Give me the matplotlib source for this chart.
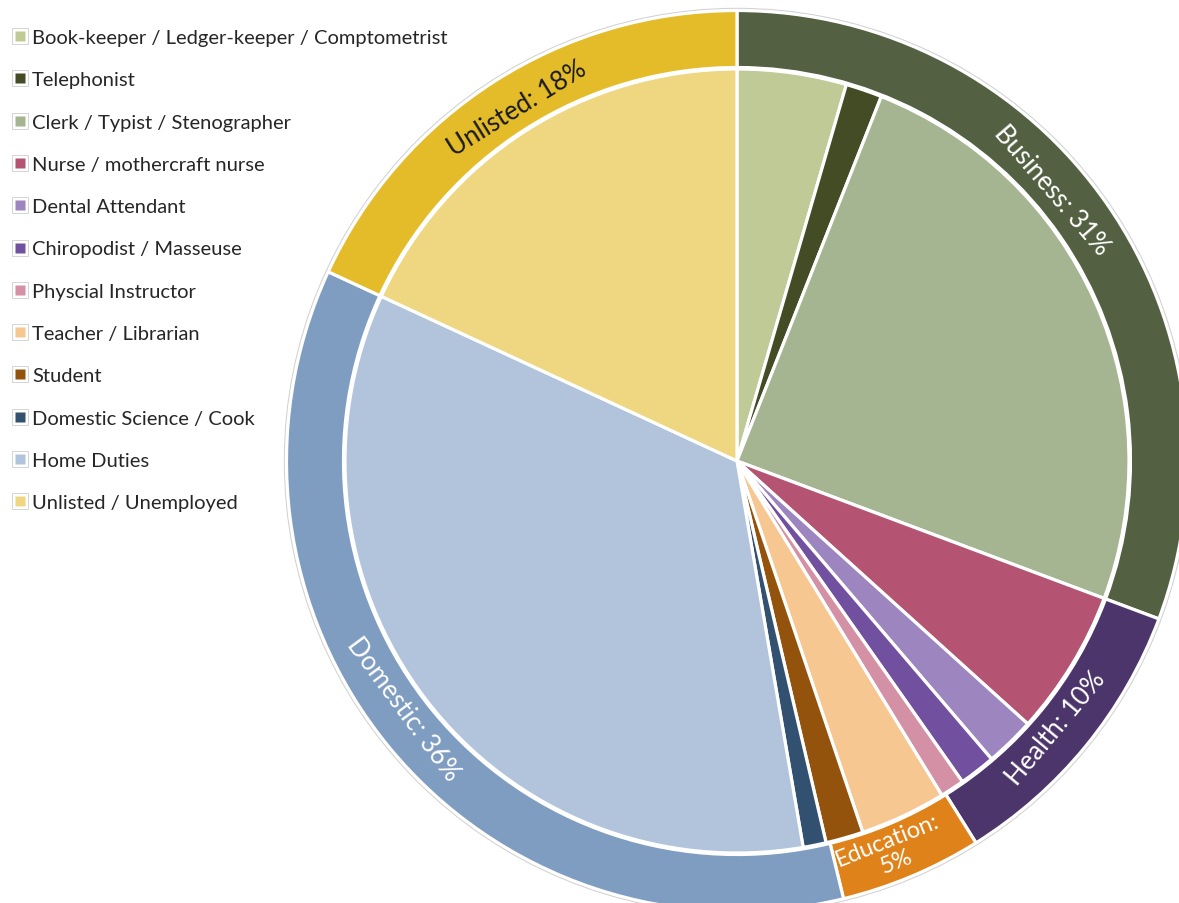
import matplotlib
matplotlib.use("Agg")
import matplotlib.pyplot as plt
from matplotlib.lines import Line2D
from matplotlib.patches import Circle
import numpy as np

plt.rcParams['font.family'] = ['Lato', 'DejaVu Sans']

# Occupations (inner pie), percent of respondents
occupations = [
    "Book-keeper / Ledger-keeper / Comptometrist",
    "Telephonist",
    "Clerk / Typist / Stenographer",
    "Nurse / mothercraft nurse",
    "Dental Attendant",
    "Chiropodist / Masseuse",
    "Physcial Instructor",
    "Teacher / Librarian",
    "Student",
    "Domestic Science / Cook",
    "Home Duties",
    "Unlisted / Unemployed",
]
occupation_share = [4.5, 1.5, 24.7, 6.0, 2.05, 1.5, 1.0, 3.55, 1.55, 0.95, 34.6, 18.1]
occupation_colors = [
    "#C0CA96", "#434C24", "#A5B491",
    "#B45472", "#9D85C0", "#7250A0", "#D491A6",
    "#F6C791", "#93530C",
    "#32506F", "#B1C4DB",
    "#EFD681",
]

# Occupation groups (outer ring), percent of respondents
groups = ["Business", "Health", "Education", "Domestic", "Unlisted"]
group_share = [30.7, 10.4, 5.1, 35.7, 18.1]
group_colors = ["#536142", "#4B356A", "#E0821A", "#7F9DC1", "#E4BC2A"]
group_text_colors = ["white", "white", "white", "white", "#1a1a1a"]

W, H = 1179, 904
fig = plt.figure(figsize=(W / 100, H / 100), dpi=100)

# pie centre in pixel coordinates (from top-left); axes data units are pixels
cx, cy = 737, 462
half = 470
ax = fig.add_axes([(cx - half) / W, (H - cy - half) / H, 2 * half / W, 2 * half / H])

edge = dict(edgecolor="white", linewidth=2.3)
ax.pie(occupation_share, colors=occupation_colors, radius=392,
       startangle=90, counterclock=False, wedgeprops=edge)

r_out = 450.5
ring_w = 57
ax.pie(group_share, colors=group_colors, radius=r_out,
       startangle=90, counterclock=False,
       wedgeprops=dict(width=ring_w, **edge))
ax.add_patch(Circle((0, 0), r_out + 2.2, fill=False, edgecolor="#cfcfcf", lw=0.7))

ax.set_xlim(-half, half)
ax.set_ylim(-half, half)
ax.set_aspect("equal")
ax.axis("off")

# group labels along the ring
nudge = [-6.0, 0.6, 1.2, 2.9, 0.7]   # degrees, clockwise
total = sum(group_share)
cum = np.cumsum([0] + group_share) / total * 360.0
for i, (name, val) in enumerate(zip(groups, group_share)):
    narrow = val < 8
    theta = (cum[i] + cum[i + 1]) / 2 + nudge[i]      # clockwise from 12 o'clock
    phi = np.deg2rad(90 - theta)
    r_lab = 419 if narrow else 416
    x, y = r_lab * np.cos(phi), r_lab * np.sin(phi)
    rot = 180 - theta if 90 < theta < 270 else -theta
    rot = (rot + 180) % 360 - 180
    sep = "\n" if narrow else " "
    ax.text(x, y, f"{name}:{sep}{val:.0f}%", rotation=rot, rotation_mode="anchor",
            ha="center", va="center", color=group_text_colors[i],
            fontsize=17 if narrow else 18.5, linespacing=1.15)

# legend
row0, step = 37, 42.3
for i, (lab, col) in enumerate(zip(occupations, occupation_colors)):
    yy = 1 - (row0 + i * step) / H
    fig.add_artist(Line2D([20 / W], [yy], transform=fig.transFigure, marker="s",
                          ms=11, mfc="white", mec="#d4d4d4", mew=0.7, ls=""))
    fig.add_artist(Line2D([20 / W], [yy], transform=fig.transFigure, marker="s",
                          ms=7.2, mfc=col, mec="none", ls=""))
    fig.text(32 / W, 1 - (row0 + i * step + 7) / H, lab, fontsize=14.5,
             color="#262626", ha="left", va="baseline")

fig.savefig("out.png", dpi=100, facecolor="white")
